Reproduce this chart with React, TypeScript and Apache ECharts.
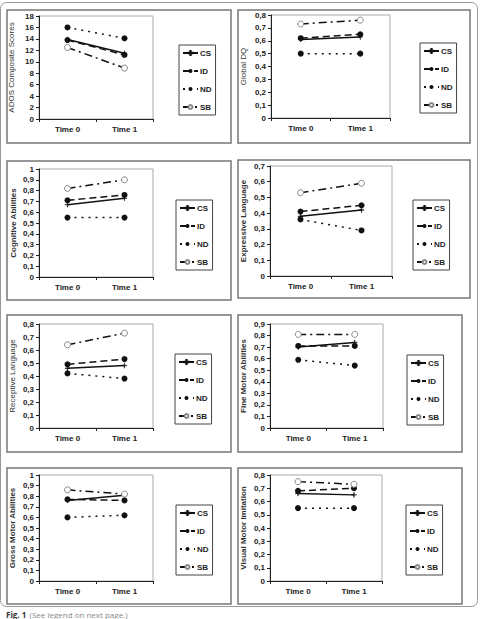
import React, { useEffect, useRef } from "react";
import * as echarts from "echarts";

const categories = ["Time 0", "Time 1"];
const groups = ["CS", "ID", "ND", "SB"];

// each panel: values in order CS, ID, ND, SB ; [Time 0, Time 1]
const adosScores = [[13.9, 11.5], [13.8, 11.2], [16.0, 14.1], [12.5, 8.9]];
const globalDQ = [[0.61, 0.63], [0.62, 0.65], [0.5, 0.5], [0.73, 0.76]];
const cognitive = [[0.67, 0.73], [0.71, 0.76], [0.55, 0.55], [0.82, 0.9]];
const expressive = [[0.38, 0.42], [0.41, 0.45], [0.36, 0.29], [0.53, 0.59]];
const receptive = [[0.46, 0.48], [0.49, 0.53], [0.42, 0.38], [0.64, 0.73]];
const fineMotor = [[0.7, 0.74], [0.71, 0.71], [0.59, 0.54], [0.81, 0.81]];
const grossMotor = [[0.76, 0.81], [0.77, 0.76], [0.6, 0.62], [0.86, 0.82]];
const visualMotor = [[0.66, 0.65], [0.68, 0.7], [0.55, 0.55], [0.75, 0.73]];

const panelData = [adosScores, globalDQ, cognitive, expressive, receptive, fineMotor, grossMotor, visualMotor];
const panelTitles = [
  "ADOS Composite Scores",
  "Global DQ",
  "Cognitive Abilities",
  "Expressive Language",
  "Receptive Language",
  "Fine Motor Abilities",
  "Gross Motor Abilities",
  "Visual Motor Imitation",
];
const yMaxes = [18, 0.8, 1, 0.7, 0.8, 0.9, 1, 0.8];
const yIntervals = [2, 0.1, 0.1, 0.1, 0.1, 0.1, 0.1, 0.1];

// layout (px)
const grids = [
  { left: 39, top: 16, width: 114, height: 103 },
  { left: 271, top: 15, width: 119, height: 103 },
  { left: 39, top: 169, width: 114, height: 108 },
  { left: 270, top: 166, width: 122, height: 110 },
  { left: 39, top: 324, width: 114, height: 104 },
  { left: 270, top: 324, width: 113, height: 104 },
  { left: 39, top: 475, width: 114, height: 106 },
  { left: 270, top: 475, width: 112, height: 106 },
];
const legendPos = [
  { left: 179, top: 45 },
  { left: 420, top: 43 },
  { left: 176, top: 200 },
  { left: 413, top: 200 },
  { left: 175, top: 354 },
  { left: 407, top: 355 },
  { left: 176, top: 505 },
  { left: 406, top: 505 },
];
const panelBoxes = [
  { x: 7, y: 10, w: 224, h: 133 },
  { x: 238, y: 10, w: 232, h: 133 },
  { x: 7, y: 161, w: 224, h: 139 },
  { x: 238, y: 160, w: 232, h: 138 },
  { x: 7, y: 315, w: 224, h: 137 },
  { x: 238, y: 315, w: 224, h: 137 },
  { x: 7, y: 468, w: 224, h: 136 },
  { x: 238, y: 468, w: 224, h: 136 },
];
const titleBold = [false, false, true, true, false, true, true, true];
const nameGaps = [24, 24, 22, 23, 23, 23, 23, 23];

const FONT = "Liberation Sans, Arial, sans-serif";
const plusPath = "path://M0,2.3H5V2.7H0ZM2.3,0H2.7V5H2.3Z";

const seriesStyle: any = {
  CS: { symbol: plusPath, symbolSize: 5, line: "solid", color: "#111", border: "#111", bw: 0.5 },
  ID: { symbol: "circle", symbolSize: 6, line: [7, 4], color: "#111", border: "#111", bw: 0 },
  ND: { symbol: "circle", symbolSize: 6, line: [2, 5], color: "#111", border: "#111", bw: 0 },
  SB: { symbol: "circle", symbolSize: 6, line: [8, 4, 2, 4], color: "#fff", border: "#888", bw: 1 },
};

export default function App() {
  const ref = useRef<HTMLDivElement>(null);
  useEffect(() => {
    if (!ref.current) return;
    const chart = echarts.init(ref.current, null, { renderer: "svg" });
    const gridOpts: any[] = [];
    const xAxes: any[] = [];
    const yAxes: any[] = [];
    const series: any[] = [];
    const legends: any[] = [];
    panelData.forEach((pd, i) => {
      gridOpts.push({
        ...grids[i],
        show: true,
        borderColor: "#aaa",
        borderWidth: 1,
        backgroundColor: "transparent",
        containLabel: false,
      });
      xAxes.push({
        type: "category",
        gridIndex: i,
        data: categories,
        boundaryGap: true,
        axisLine: { lineStyle: { color: "#222", width: 1 } },
        axisTick: { show: true, length: 3, lineStyle: { color: "#222" } },
        axisLabel: { fontSize: 8, fontWeight: "bold", color: "#222", margin: 6, fontFamily: FONT },
        splitLine: { show: false },
      });
      yAxes.push({
        type: "value",
        gridIndex: i,
        min: 0,
        max: yMaxes[i],
        interval: yIntervals[i],
        axisLine: { show: true, lineStyle: { color: "#222", width: 1 } },
        axisTick: { show: true, length: 3, lineStyle: { color: "#222" } },
        axisLabel: {
          fontSize: 8,
          fontWeight: "bold",
          color: "#222",
          margin: 5,
          fontFamily: FONT,
          formatter: (v: number) => String(Number(v.toFixed(1))).replace(".", ","),
        },
        splitLine: { show: false },
        name: panelTitles[i],
        nameLocation: "middle",
        nameRotate: 90,
        nameGap: nameGaps[i],
        nameTextStyle: {
          fontSize: 8,
          fontWeight: titleBold[i] ? "bold" : "normal",
          color: "#333",
          fontFamily: FONT,
        },
      });
      groups.forEach((g, k) => {
        const st = seriesStyle[g];
        series.push({
          type: "line",
          name: g,
          xAxisIndex: i,
          yAxisIndex: i,
          data: pd[k],
          symbol: st.symbol,
          symbolSize: st.symbolSize,
          showSymbol: true,
          lineStyle: { color: "#111", width: 1.5, type: st.line },
          itemStyle: { color: st.color, borderColor: st.border, borderWidth: st.bw },
          emphasis: { disabled: true },
          silent: true,
        });
      });
      legends.push({
        ...legendPos[i],
        orient: "vertical",
        data: groups,
        itemWidth: 15,
        itemHeight: 5,
        itemGap: 10,
        padding: [4, 4, 4, 3],
        backgroundColor: "#fff",
        borderColor: "#444",
        borderWidth: 1,
        selectedMode: false,
        textStyle: { fontSize: 8, fontWeight: "bold", color: "#222", fontFamily: FONT, padding: [0, 0, 0, -3] },
      });
    });

    const graphics: any[] = [
      {
        type: "rect",
        shape: { x: 0.5, y: 2.5, width: 477, height: 604, r: 6 },
        style: { fill: "none", stroke: "#999", lineWidth: 1 },
        z: -10,
      },
      ...panelBoxes.map((b) => ({
        type: "rect",
        shape: { x: b.x, y: b.y, width: b.w, height: b.h },
        style: { fill: "none", stroke: "#777", lineWidth: 1.5 },
        z: -5,
      })),
      {
        type: "text",
        x: 6,
        y: 608,
        style: {
          text: "{a|Fig. 1} {b|(See legend on next page.)}",
          rich: {
            a: { fontSize: 8, fontWeight: "bold", fill: "#333", fontFamily: "Open Sans, sans-serif" },
            b: { fontSize: 8, fill: "#888", fontFamily: "Open Sans, sans-serif" },
          },
        },
      },
    ];

    chart.setOption({
      animation: false,
      backgroundColor: "#fff",
      grid: gridOpts,
      xAxis: xAxes,
      yAxis: yAxes,
      series,
      legend: legends,
      graphic: { elements: graphics },
    });
    return () => chart.dispose();
  }, []);
  return (
    <div
      ref={ref}
      style={{ position: "fixed", left: 0, top: 0, width: 481, height: 619, background: "#fff" }}
    />
  );
}
